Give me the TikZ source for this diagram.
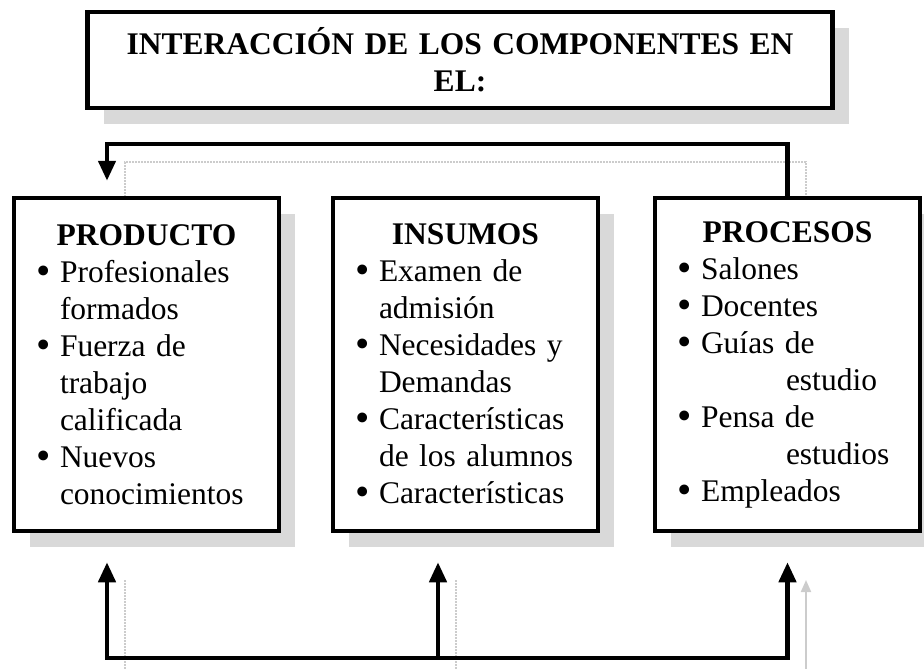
\documentclass[tikz,border=0pt]{standalone}
\usepackage{fontspec}
\usepackage{graphicx}
\setmainfont{Liberation Serif}
\usetikzlibrary{arrows.meta,shadows}
\newcommand{\bul}{\makebox[24pt][l]{\raisebox{-2.5pt}{\scalebox{1.3}{\textbullet}}}}
\newcommand{\cnt}{\hspace*{24pt}}
\newcommand{\head}[1]{\makebox[\linewidth][c]{\textbf{#1}}}
\begin{document}
\begin{tikzpicture}[x=1pt, y=-1pt, every node/.style={font=\fontsize{31.5}{37}\selectfont},
  titlebox/.style={draw,line width=4.5pt,fill=white,minimum width=745pt,minimum height=96pt,text width=720pt,align=center,font=\fontsize{31.5}{37}\selectfont\bfseries,
    drop shadow={shadow xshift=16pt,shadow yshift=-16pt,fill=gray!30,opacity=1}},
  card/.style={draw,line width=4.5pt,fill=white,minimum width=265pt,minimum height=333pt,text width=221pt,inner xsep=22pt,inner ysep=0pt,align=left,
    drop shadow={shadow xshift=16pt,shadow yshift=-16pt,fill=gray!30,opacity=1}},
  link/.style={line width=4.5pt,line cap=rect},
  feed/.style={line width=4.5pt,-{Triangle[width=17pt,length=20pt]}},
  ghost/.style={gray!40,line width=2pt,densely dotted}]
\useasboundingbox (0,0) rectangle (924,669);
\coordinate (topY) at (0,144);
\coordinate (botY) at (0,658);
% faint shadows of the connectors
\draw[ghost] (806,216) -- (806,162) -- (125,162) -- (125,210);
\draw[ghost] (125,669) -- (125,580);
\draw[ghost] (456,669) -- (456,580);
\draw[ghost,solid,-{Triangle[width=10pt,length=12pt]}] (806,669) -- (806,580);
\node[titlebox] (title) at (460,60) {INTERACCIÓN DE LOS COMPONENTES EN\\EL:};
\node[card] (prod) at (146.5,364.5) {\head{PRODUCTO}\\
\bul Profesionales\\
\cnt formados\\
\bul Fuerza de\\
\cnt trabajo\\
\cnt calificada\\
\bul Nuevos\\
\cnt conocimientos};
\node[card] (insu) at (465.5,364.5) {\head{INSUMOS}\\
\bul Examen de\\
\cnt admisión\\
\bul Necesidades y\\
\cnt Demandas\\
\bul Características\\
\cnt de los alumnos\\
\bul Características};
\node[card] (proc) at (787.5,364.5) {\head{PROCESOS}\\
\bul Salones\\
\bul Docentes\\
\bul Guías de\\
\cnt\hspace*{85pt}estudio\\
\bul Pensa de\\
\cnt\hspace*{85pt}estudios\\
\bul Empleados};
% feedback from procesos to producto
\draw[feed] (proc.north) -- (proc.north |- topY) -| ([xshift=-39.5pt,yshift=15pt]prod.north);
% common line underneath
\foreach \n/\dx in {prod/-39.5,insu/-27.5,proc/0}{
  \coordinate (\n-in) at ([xshift=\dx pt,yshift=-29pt]\n.south);
  \draw[feed] (\n-in |- botY) -- (\n-in);
}
\draw[link] (prod-in |- botY) -- (proc-in |- botY);
\end{tikzpicture}
\end{document}
